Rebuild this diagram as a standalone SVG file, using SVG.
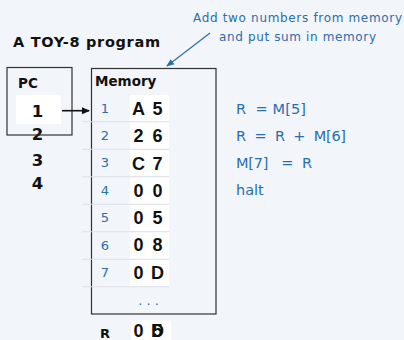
<svg xmlns="http://www.w3.org/2000/svg" width="404" height="340" viewBox="0 0 404 340">
<defs>
<style>
.bg{fill:#f2f5f9}
.box{fill:none;stroke:#333;stroke-width:1.2}
.cell{fill:#ffffff}
.sep{stroke:#dde1e7;stroke-width:1}
.b{font-family:"DejaVu Sans","Liberation Sans",sans-serif;font-weight:bold;fill:#111}
.blue{font-family:"DejaVu Sans","Liberation Sans",sans-serif;fill:#2a6ead}
.big{font-family:"Liberation Sans","DejaVu Sans",sans-serif;font-weight:bold;font-size:18px;fill:#111;text-anchor:middle}
.idx{font-size:13px;text-anchor:middle}
.code{font-size:14.5px}
</style>
<marker id="ah" markerWidth="8" markerHeight="8" refX="7" refY="4" orient="auto" markerUnits="userSpaceOnUse">
<path d="M0,0.5 L8,4 L0,7.5 z" fill="#111"/>
</marker>
<marker id="ahb" markerWidth="8" markerHeight="8" refX="7" refY="4" orient="auto" markerUnits="userSpaceOnUse">
<path d="M0,0.8 L8,4 L0,7.2 z" fill="#2a6ead"/>
</marker>
</defs>
<rect class="bg" x="0" y="0" width="404" height="340"/>

<g id="title">
<text class="b" x="13" y="47" font-size="14.5" textLength="147">A TOY-8 program</text>
</g>

<g id="annotation">
<text class="blue" x="297.5" y="22" font-size="12" text-anchor="middle" textLength="209">Add two numbers from memory</text>
<text class="blue" x="297.5" y="41" font-size="12" text-anchor="middle" textLength="157">and put sum in memory</text>
</g>

<g id="pc">
<rect class="box" x="7" y="67.5" width="65" height="67.5"/>
<text class="b" x="18" y="88" font-size="13.5">PC</text>
<rect class="cell" x="16" y="95" width="45" height="29"/>
<text class="b" x="37.5" y="116.5" font-size="16.5" text-anchor="middle">1</text>
<text class="b" x="37.5" y="140" font-size="16.5" text-anchor="middle">2</text>
<text class="b" x="37.5" y="166" font-size="16.5" text-anchor="middle">3</text>
<text class="b" x="37.5" y="189" font-size="16.5" text-anchor="middle">4</text>
</g>

<g id="memory">
<rect class="box" x="91.5" y="68.5" width="124.5" height="245.5"/>
<text class="b" x="95" y="85.5" font-size="13.5">Memory</text>
<g>
<line class="sep" x1="82" y1="121.75" x2="169" y2="121.75"/>
<line class="sep" x1="82" y1="149.25" x2="169" y2="149.25"/>
<line class="sep" x1="82" y1="176.75" x2="169" y2="176.75"/>
<line class="sep" x1="82" y1="204.25" x2="169" y2="204.25"/>
<line class="sep" x1="82" y1="231.75" x2="169" y2="231.75"/>
<line class="sep" x1="82" y1="259.25" x2="169" y2="259.25"/>
<line class="sep" x1="82" y1="286.75" x2="169" y2="286.75"/>
</g>
<g>
<rect class="cell" x="130" y="95" width="39" height="26"/>
<rect class="cell" x="130" y="122.5" width="39" height="26"/>
<rect class="cell" x="130" y="150" width="39" height="26"/>
<rect class="cell" x="130" y="177.5" width="39" height="26"/>
<rect class="cell" x="130" y="205" width="39" height="26"/>
<rect class="cell" x="130" y="232.5" width="39" height="26"/>
<rect class="cell" x="130" y="260" width="39" height="26"/>
</g>
<g class="blue idx">
<text x="105" y="112.5">1</text>
<text x="105" y="139.9">2</text>
<text x="105" y="167.3">3</text>
<text x="105" y="194.7">4</text>
<text x="105" y="222.1">5</text>
<text x="105" y="249.5">6</text>
<text x="105" y="276.9">7</text>
</g>
<g class="big">
<text x="138.5" y="115">A</text><text x="157.5" y="115">5</text>
<text x="138.5" y="142.25">2</text><text x="157.5" y="142.25">6</text>
<text x="138.5" y="169.5">C</text><text x="157.5" y="169.5">7</text>
<text x="138.5" y="196.75">0</text><text x="157.5" y="196.75">0</text>
<text x="138.5" y="224">0</text><text x="157.5" y="224">5</text>
<text x="138.5" y="251.25">0</text><text x="157.5" y="251.25">8</text>
<text x="138.5" y="278.5">0</text><text x="157.5" y="278.5">D</text>
</g>
<text class="blue" x="148.5" y="305" font-size="13" text-anchor="middle">. . .</text>
</g>

<g id="register">
<text class="b" x="105" y="338" font-size="13" text-anchor="middle">R</text>
<rect class="cell" x="131" y="320.5" width="40" height="20"/>
<g class="big">
<text x="138.5" y="336.5">0</text>
<text x="157.5" y="336.5">D</text>
<text x="157.5" y="336.5">5</text>
</g>
</g>

<g id="code" class="blue code">
<text x="236" y="114" textLength="70" xml:space="preserve">R  = M[5]</text>
<text x="236" y="141" textLength="110" xml:space="preserve">R  =  R  +  M[6]</text>
<text x="236" y="167.5" textLength="76" xml:space="preserve">M[7]   =  R</text>
<text x="236" y="195">halt</text>
</g>

<g id="connectors">
<line x1="62" y1="110.7" x2="89" y2="110.7" stroke="#111" stroke-width="1.6" marker-end="url(#ah)"/>
<line x1="210" y1="33" x2="167" y2="66" stroke="#2a6ead" stroke-width="1.2" marker-end="url(#ahb)"/>
</g>
</svg>
